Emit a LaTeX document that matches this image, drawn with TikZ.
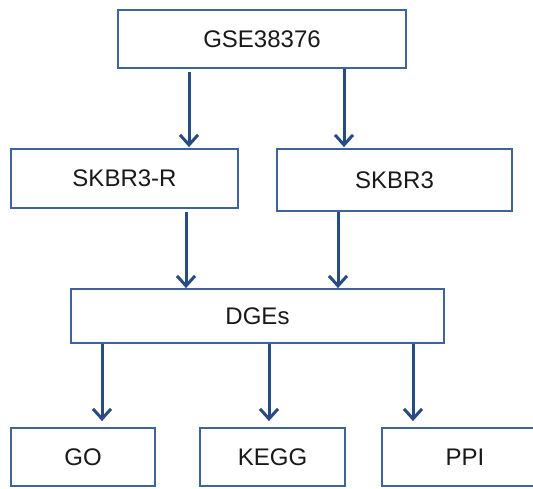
\documentclass[tikz,border=0pt]{standalone}
\usepackage{fontspec}
\setmainfont{Liberation Sans}
\usetikzlibrary{arrows.meta}
\definecolor{boxblue}{HTML}{3F649C}
\definecolor{arrblue}{HTML}{264C82}
\tikzset{
  box/.style={draw=boxblue, line width=1.8pt, fill=white, rectangle, inner sep=0pt, font=\fontsize{24}{28}\selectfont, text=black!90},
  arr/.style={draw=arrblue, line width=3pt, -{Straight Barb[length=10pt,width=18pt,line width=3pt]}}
}
\begin{document}
\begin{tikzpicture}[x=1pt,y=-1pt]
\useasboundingbox (0,0) rectangle (533,488);
\begin{scope}
\clip (0,0) rectangle (533,488);
\node[box, minimum width=288pt, minimum height=58pt] (gse) at (262,39) {GSE38376};
\node[box, minimum width=227pt, minimum height=59pt] (skr) at (124.5,178.5) {SKBR3-R};
\node[box, minimum width=235pt, minimum height=62pt] (sk) at (394.5,180) {SKBR3};
\node[box, minimum width=373pt, minimum height=54pt] (dge) at (257.5,316) {DGEs};
\node[box, minimum width=144pt, minimum height=58pt] (go) at (83,457) {GO};
\node[box, minimum width=145pt, minimum height=58pt] (kegg) at (272.5,457) {KEGG};
\node[box, minimum width=166pt, minimum height=58pt] (ppi) at (465,457) {PPI};
\end{scope}
\coordinate (a1) at (189,0);
\coordinate (a2) at (344,0);
\coordinate (b1) at (186,0);
\coordinate (b2) at (338,0);
\coordinate (c1) at (102,0);
\coordinate (c2) at (269,0);
\coordinate (c3) at (413,0);
\draw[arr] ([yshift=-3pt]gse.south -| a1) -- ([yshift=1pt]skr.north -| a1);
\draw[arr] (gse.south -| a2) -- ([yshift=1pt]sk.north -| a2);
\draw[arr] ([yshift=-3pt]skr.south -| b1) -- ([yshift=0pt]dge.north -| b1);
\draw[arr] (sk.south -| b2) -- ([yshift=0pt]dge.north -| b2);
\draw[arr] (dge.south -| c1) -- ([yshift=6pt]go.north -| c1);
\draw[arr] (dge.south -| c2) -- ([yshift=6pt]kegg.north -| c2);
\draw[arr] (dge.south -| c3) -- ([yshift=6pt]ppi.north -| c3);
\end{tikzpicture}
\end{document}
